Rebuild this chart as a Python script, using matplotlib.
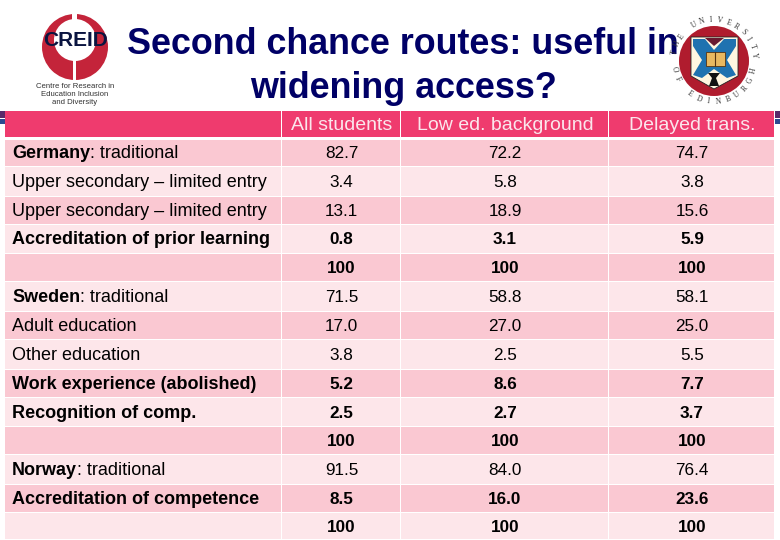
import numpy as np
import matplotlib
matplotlib.use("Agg")
import matplotlib.pyplot as plt
from matplotlib.patches import Rectangle, Circle, Polygon

plt.rcParams['font.family'] = ['Liberation Sans', 'DejaVu Sans']

title_lines = ["Second chance routes: useful in", "widening access?"]
columns = ["All students", "Low ed. background", "Delayed trans."]
country = ["Germany", "", "", "", "", "Sweden", "", "", "", "", "", "Norway", "", ""]
labels = [": traditional", "Upper secondary – limited entry", "Upper secondary – limited entry",
          "Accreditation of prior learning", "", ": traditional", "Adult education",
          "Other education", "Work experience (abolished)", "Recognition of comp.", "",
          ": traditional", "Accreditation of competence", ""]
all_students = ["82.7", "3.4", "13.1", "0.8", "100", "71.5", "17.0", "3.8", "5.2", "2.5", "100", "91.5", "8.5", "100"]
low_ed = ["72.2", "5.8", "18.9", "3.1", "100", "58.8", "27.0", "2.5", "8.6", "2.7", "100", "84.0", "16.0", "100"]
delayed = ["74.7", "3.8", "15.6", "5.9", "100", "58.1", "25.0", "5.5", "7.7", "3.7", "100", "76.4", "23.6", "100"]
bold_rows = [3, 4, 8, 9, 10, 12, 13]

# table layout in pixels
col_edges = [5, 282, 401, 609, 775]
row_edges = [140, 167, 197, 225, 254, 282, 312, 340, 370, 398, 427, 455, 485, 513, 540]
header_top, header_bottom = 111, 137

HEADER = "#ef3b6e"
DARK = "#fac8d2"
LIGHT = "#fde6ea"

fig = plt.figure(figsize=(7.8, 5.4), dpi=100)
ax = fig.add_axes([0, 0, 1, 1])
ax.set_xlim(0, 780)
ax.set_ylim(540, 0)
ax.axis("off")

# slide bars behind the table
for x0 in (0, 775):
    ax.add_patch(Rectangle((x0, 111), 5, 7, color="#5a2a6a", lw=0))
    ax.add_patch(Rectangle((x0, 119), 5, 5, color="#2c4a90", lw=0))

# header
for i in range(4):
    ax.add_patch(Rectangle((col_edges[i], header_top), col_edges[i + 1] - col_edges[i] - 1,
                           header_bottom - header_top, color=HEADER, lw=0))
for i, c in enumerate(columns):
    ax.text((col_edges[i + 1] + col_edges[i + 2]) / 2, 126, c, ha="center", va="center",
            fontsize=14, color="#fbe6ec")

# rows
for r in range(len(labels)):
    top, bottom = row_edges[r], row_edges[r + 1]
    color = DARK if r % 2 == 0 else LIGHT
    for i in range(4):
        ax.add_patch(Rectangle((col_edges[i], top), col_edges[i + 1] - col_edges[i] - 1,
                               bottom - top - 1, color=color, lw=0))
    mid = (top + bottom) / 2 + 0.5
    weight = "bold" if r in bold_rows else "normal"
    if country[r]:
        t = ax.text(12, mid, country[r], va="center", fontsize=13, fontweight="bold", color="black")
        ax.annotate(labels[r], xy=(1, 0), xycoords=t, va="bottom", fontsize=13, color="black")
    else:
        ax.text(12, mid, labels[r], va="center", fontsize=13, fontweight=weight, color="black")
    for i, vals in enumerate([all_students, low_ed, delayed]):
        ax.text((col_edges[i + 1] + col_edges[i + 2]) / 2, mid, vals[r], ha="center", va="center",
                fontsize=12.3, fontweight=weight, color="black")

# title
ax.text(403, 45, title_lines[0], ha="center", va="center", fontsize=25.8, fontweight="bold", color="#000066")
ax.text(404, 89, title_lines[1], ha="center", va="center", fontsize=25.8, fontweight="bold", color="#000066")

# CREID logo
ax.add_patch(Circle((75, 47), 33, color="#c4243a", lw=0))
ax.add_patch(Circle((75, 40), 21, color="white", lw=0))
ax.add_patch(Rectangle((72, 12), 5, 10, color="white", lw=0))
ax.add_patch(Rectangle((73, 58), 3, 24, color="white", lw=0))
ax.text(75, 40.5, "CREID", ha="center", va="center", fontsize=15, fontweight="bold", color="#0a1440")
for y, s in zip([87, 95, 103], ["Centre for Research in", "Education Inclusion", "and Diversity"]):
    ax.text(75, y, s, ha="center", va="center", fontsize=5.6, color="#333333")

# Edinburgh crest
cx, cy = 714, 61
ax.add_patch(Circle((cx, cy), 35, color="#b01c2e", lw=0))
ax.add_patch(Polygon([(691, 37), (738, 37), (738, 76), (714, 89), (691, 76)], closed=True,
                     facecolor="#fff6e0", edgecolor="#222222", lw=0.6))
ax.add_patch(Polygon([(693, 39), (705, 39), (714, 50), (724, 39), (736, 39), (736, 46), (727, 60),
                      (736, 75), (727, 78), (714, 69), (702, 78), (693, 75), (702, 60), (693, 46)],
                     closed=True, facecolor="#1f72b0", lw=0))
ax.add_patch(Polygon([(705, 38), (724, 38), (714, 46)], closed=True, facecolor="#6a1a30", lw=0))
ax.add_patch(Rectangle((706, 52), 19, 14, facecolor="#e8b860", edgecolor="#553311", lw=0.6))
ax.plot([715, 715], [52, 66], color="#553311", lw=0.8)
ax.add_patch(Polygon([(708, 73), (720, 73), (716, 78), (719, 86), (709, 86), (712, 78)], closed=True,
                     facecolor="#111111", lw=0))

top_text = "THE UNIVERSITY"
for ch, a in zip(top_text, np.linspace(168, 8, len(top_text))):
    ax.text(cx + 41 * np.cos(np.radians(a)), cy - 41 * np.sin(np.radians(a)), ch, fontsize=5.5,
            ha="center", va="center", rotation=a - 90, color="#333333", family="Liberation Serif")
bottom_text = "OF EDINBURGH"
for ch, a in zip(bottom_text, np.linspace(-168, -14, len(bottom_text))):
    ax.text(cx + 41 * np.cos(np.radians(a)), cy - 41 * np.sin(np.radians(a)), ch, fontsize=5.5,
            ha="center", va="center", rotation=a + 90, color="#333333", family="Liberation Serif")

fig.savefig("out.png", dpi=100)
